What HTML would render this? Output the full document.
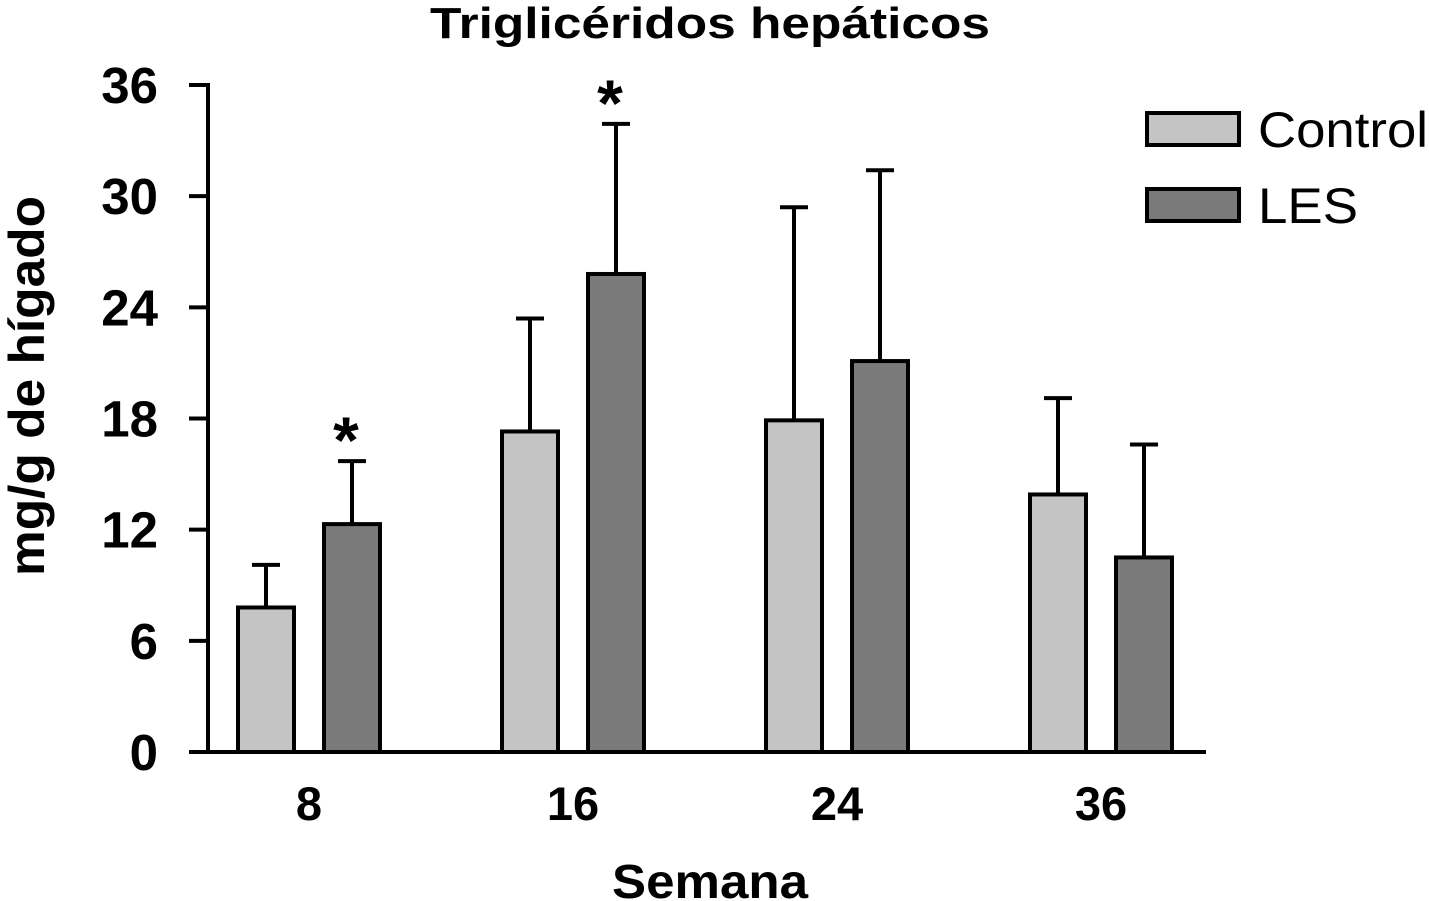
<!DOCTYPE html>
<html><head><meta charset="utf-8"><style>
html,body{margin:0;padding:0;background:#fff}
svg{display:block}
text{font-family:"Liberation Sans",Arial,sans-serif;fill:#000}
</style></head><body>
<svg id="chart" width="1429" height="901">
<text x="710" y="38" font-size="44" font-weight="bold" text-anchor="middle" textLength="560" lengthAdjust="spacingAndGlyphs">Triglicéridos hepáticos</text>
<text transform="translate(44,386) rotate(-90)" font-size="50" font-weight="bold" text-anchor="middle" textLength="380" lengthAdjust="spacingAndGlyphs">mg/g de hígado</text>
<text x="710" y="898" font-size="48" font-weight="bold" text-anchor="middle" textLength="196" lengthAdjust="spacingAndGlyphs">Semana</text>
<g id="bars"></g><g id="axes"></g>
<g>
<rect x="1147" y="113" width="92" height="32" fill="#c4c4c4" stroke="#000" stroke-width="4"/>
<text x="1258" y="147" font-size="50" textLength="170" lengthAdjust="spacingAndGlyphs">Control</text>
<rect x="1147" y="189" width="92" height="32" fill="#7a7a7a" stroke="#000" stroke-width="4"/>
<text x="1258" y="223" font-size="50" textLength="100" lengthAdjust="spacingAndGlyphs">LES</text>
</g>
</svg>
<script>
const categories=["8","16","24","36"];
const controlValues=[7.8,17.3,17.9,13.9];
const controlErrors=[2.3,6.1,11.5,5.2];
const lesValues=[12.3,25.8,21.1,10.5];
const lesErrors=[3.4,8.1,10.3,6.1];
const significant=[true,true,false,false];
const yTicks=[0,6,12,18,24,30,36];
const NS="http://www.w3.org/2000/svg";
const y0=752,yTop=85,yMax=36;
function yS(v){return y0-(y0-yTop)*v/yMax;}
function xC(i){return 309+264*i;}
function mk(tag,attrs,parent){const e=document.createElementNS(NS,tag);for(const k in attrs)e.setAttribute(k,attrs[k]);parent.appendChild(e);return e;}
const bars=document.getElementById('bars'),axes=document.getElementById('axes');
categories.forEach((c,i)=>{
  [[controlValues,controlErrors,-43,"#c4c4c4","control"],[lesValues,lesErrors,43,"#7a7a7a","les"]].forEach(s=>{
    const v=s[0][i],e=s[1][i],cx=xC(i)+s[2];
    const ln=mk('line',{x1:cx,x2:cx,y1:yS(v),y2:yS(v+e),stroke:"#000","stroke-width":4},bars);
    
    
    const cap=mk('line',{x1:cx-14,x2:cx+14,y1:yS(v+e),y2:yS(v+e),stroke:"#000","stroke-width":4},bars);
    
    
    const r=mk('rect',{x:cx-28,y:yS(v),width:56,height:y0-yS(v),fill:s[3],stroke:"#000","stroke-width":4},bars);
    
    
    if(s[4]==="les"&&significant[i]){
      const t=mk('text',{x:cx-6,y:yS(v+e)+2,"font-size":66,"font-weight":"bold","text-anchor":"middle"},bars);
      t.textContent="*";
      
      
    }
  });
  const lb=mk('text',{x:xC(i),y:820,"font-size":47,"font-weight":"bold","text-anchor":"middle"},axes);
  lb.textContent=c;
  
  
});
const ya=mk('line',{x1:208,x2:208,y1:yS(yMax)-2,y2:y0,stroke:"#000","stroke-width":4},axes);


const xa=mk('line',{x1:189,x2:1206,y1:y0,y2:y0,stroke:"#000","stroke-width":4},axes);


yTicks.forEach(t=>{
  const tk=mk('line',{x1:189,x2:208,y1:yS(t),y2:yS(t),stroke:"#000","stroke-width":4},axes);
  
  
  const tl=mk('text',{x:158,y:yS(t)+18,"font-size":51,"font-weight":"bold","text-anchor":"end"},axes);
  tl.textContent=t;
  
  
});
</script>
</body></html>
